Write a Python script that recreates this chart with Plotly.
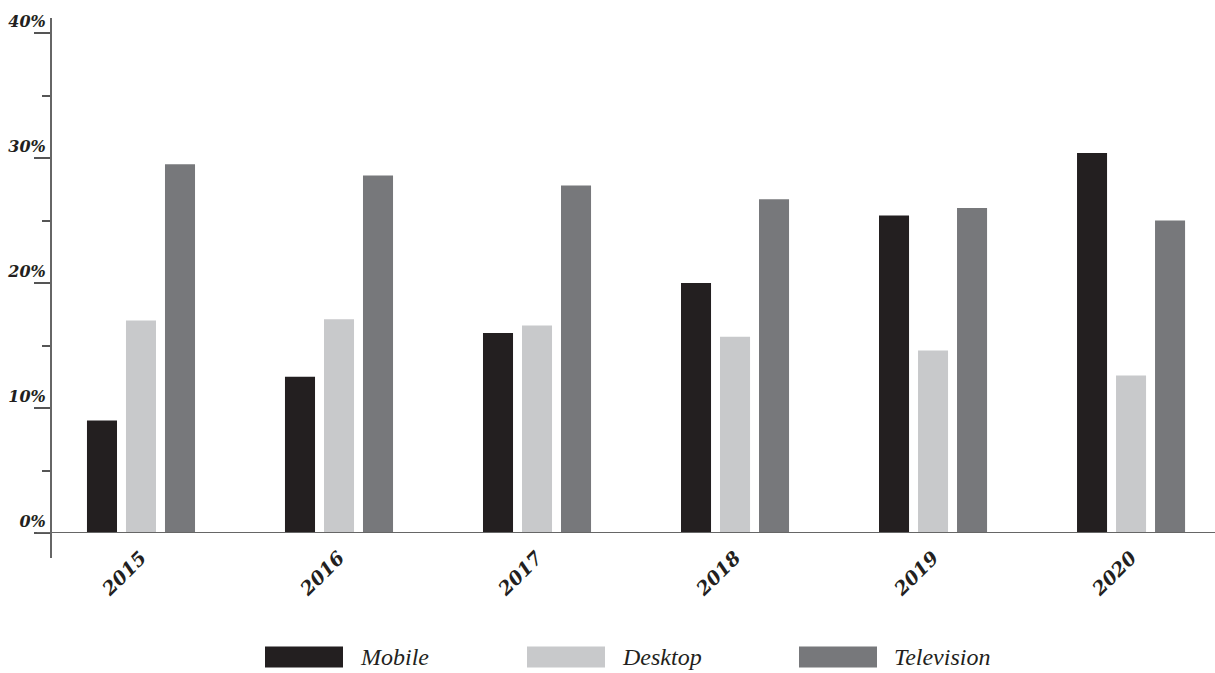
import plotly.graph_objects as go

years = ["2015", "2016", "2017", "2018", "2019", "2020"]
mobile = [9.0, 12.5, 16.0, 20.0, 25.4, 30.4]
desktop = [17.0, 17.1, 16.6, 15.7, 14.6, 12.6]
television = [29.5, 28.6, 27.8, 26.7, 26.0, 25.0]
series_names = ["Mobile", "Desktop", "Television"]
series_colors = ["#231f20", "#c8c9cb", "#77787b"]
y_ticks = [0, 10, 20, 30, 40]
y_tick_text = ["0%", "10%", "20%", "30%", "40%"]

W, H = 1215, 673
ML, MR, MT, MB = 51, 0, 18, 140
PW = W - ML - MR
PH = H - MT - MB

fig = go.Figure()
for name, vals, col in zip(series_names, [mobile, desktop, television], series_colors):
    fig.add_trace(go.Bar(x=years, y=vals, name=name, marker=dict(color=col, line=dict(width=0)),
                         showlegend=False))

serif = "DejaVu Serif"
fig.update_layout(
    width=W, height=H,
    margin=dict(l=ML, r=MR, t=MT, b=MB, pad=0),
    paper_bgcolor="white", plot_bgcolor="white",
    barmode="group", bargap=0.409, bargroupgap=0.23,
    xaxis=dict(range=[-0.4545, 5.424], showgrid=False, zeroline=False, showline=False,
               ticks="", tickangle=-45, ticklabelstandoff=9,
               tickfont=dict(family=serif, size=19, color="#231f20", weight="bold", style="italic")),
    yaxis=dict(range=[0, 41.2], showgrid=False, zeroline=False, showline=False,
               tickvals=y_ticks, ticktext=y_tick_text,
               ticks="outside", ticklen=16, tickwidth=2, tickcolor="#555",
               minor=dict(ticks="outside", ticklen=8, tickwidth=1.5, tickcolor="#555", dtick=5),
               ticklabelstandoff=-15, ticklabelshift=-12,
               tickfont=dict(family=serif, size=16, color="#231f20", weight="bold", style="italic")),
)

# axis lines (extend a bit beyond the plot area as in the reference)
fig.add_shape(type="line", xref="paper", yref="paper", x0=0, x1=0, y0=-25 / PH, y1=1,
              line=dict(color="#666", width=2))
fig.add_shape(type="line", xref="paper", yref="y", x0=-14 / PW, x1=1, y0=0, y1=0,
              line=dict(color="#666", width=2))

# custom legend with wide swatches
leg_x = [265, 527, 799]
sw_w, sw_h = 78, 21
leg_yc = 657
for name, col, lx in zip(series_names, series_colors, leg_x):
    x0 = (lx - ML) / PW
    x1 = (lx + sw_w - ML) / PW
    y0 = (H - MB - (leg_yc + sw_h / 2)) / PH
    y1 = (H - MB - (leg_yc - sw_h / 2)) / PH
    fig.add_shape(type="rect", xref="paper", yref="paper", x0=x0, x1=x1, y0=y0, y1=y1,
                  fillcolor=col, line=dict(width=0))
    fig.add_annotation(xref="paper", yref="paper", x=(lx + sw_w + 15 - ML) / PW,
                       y=(H - MB - leg_yc) / PH, text=name, showarrow=False,
                       xanchor="left", yanchor="middle",
                       font=dict(family="Liberation Serif", size=24, color="#231f20", style="italic"))

fig.write_html("out.html", config={"displayModeBar": False},
               post_script="document.body.style.margin='0';document.body.style.overflow='hidden';")
